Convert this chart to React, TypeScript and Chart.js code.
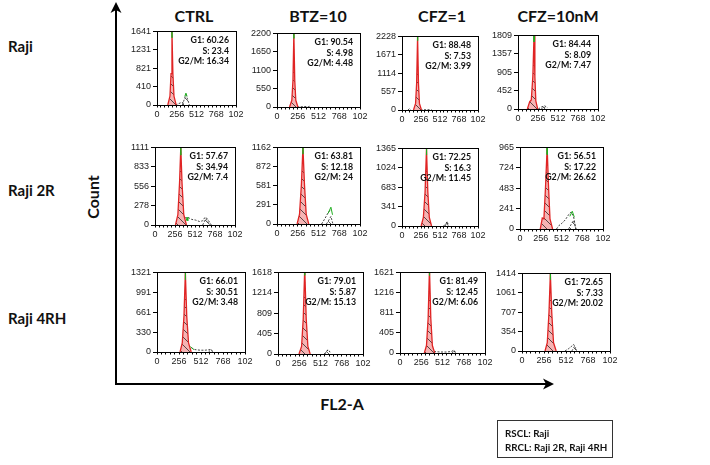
import React, { useEffect, useRef } from 'react';
import { Chart, registerables } from 'chart.js';

Chart.register(...registerables);

type Pt = [number, number | null];

// ---------- text / labels ----------
const conditions = ['CTRL', 'BTZ=10', 'CFZ=1', 'CFZ=10nM'];
const cellLines = ['Raji', 'Raji 2R', 'Raji 4RH'];
const xTickLabels = ['0', '256', '512', '768', '102'];
const legendLines = ['RSCL: Raji', 'RRCL: Raji 2R, Raji 4RH'];

// ---------- values (row-major: Raji, Raji 2R, Raji 4RH x CTRL, BTZ=10, CFZ=1, CFZ=10nM) ----------
const yMax = [1641, 2200, 2228, 1809, 1111, 1162, 1365, 965, 1321, 1618, 1621, 1414];
const g1Pct = ['60.26', '90.54', '88.48', '84.44', '57.67', '63.81', '72.25', '56.51', '66.01', '79.01', '81.49', '72.65'];
const sPct = ['23.4', '4.98', '7.53', '8.09', '34.94', '12.18', '16.3', '17.22', '30.51', '5.87', '12.45', '7.33'];
const g2Pct = ['16.34', '4.48', '3.99', '7.47', '7.4', '24', '11.45', '26.62', '3.48', '15.13', '6.06', '20.02'];

const g1Peaks: Pt[][] = [
  [[140, 0], [168, 200], [182, 700], [194, 1641], [206, 700], [220, 200], [248, 0]],
  [[155, 0], [183, 200], [197, 800], [208, 2200], [219, 800], [232, 200], [258, 0]],
  [[155, 0], [183, 200], [197, 800], [210, 2228], [222, 800], [235, 200], [262, 0]],
  [[120, 0], [150, 180], [170, 220], [190, 800], [205, 1809], [216, 800], [228, 200], [252, 0]],
  [[262, 0], [293, 150], [314, 600], [330, 1111], [346, 600], [368, 150], [402, 0]],
  [[248, 0], [278, 150], [301, 600], [320, 1162], [339, 600], [360, 150], [392, 0]],
  [[258, 0], [288, 150], [311, 600], [330, 1365], [348, 600], [368, 150], [398, 0]],
  [[250, 0], [275, 130], [295, 120], [315, 500], [335, 965], [352, 500], [370, 120], [402, 0]],
  [[268, 0], [294, 150], [314, 600], [330, 1321], [346, 600], [367, 150], [398, 0]],
  [[253, 0], [284, 150], [304, 700], [322, 1700], [340, 700], [360, 150], [388, 0]],
  [[293, 0], [319, 150], [339, 700], [355, 1700], [371, 700], [390, 150], [418, 0]],
  [[268, 0], [294, 150], [314, 700], [330, 1414], [346, 700], [367, 150], [398, 0]],
];

const g2Peaks: Pt[][] = [
  [[330, 0], [352, 120], [375, 230], [398, 120], [420, 0]],
  [[380, 0], [400, 20], [420, 0]],
  [[80, 0], [100, 40], [120, 0]],
  [[300, 0], [330, 60], [360, 0]],
  [[610, 0], [650, 90], [700, 0]],
  [[610, 0], [640, 60], [665, 115], [690, 0]],
  [[580, 0], [605, 60], [625, 0]],
  [[600, 0], [640, 70], [660, 100], [690, 0]],
  [[600, 0], [630, 40], [655, 0]],
  [[560, 0], [600, 80], [625, 40]],
  [[630, 0], [650, 50], [670, 0]],
  [[580, 0], [610, 80], [640, 0]],
];

const sPhase: Pt[][] = [
  [[240, 0], [280, 30], [320, 60], [345, 40]],
  [[250, 0], [300, 10], [380, 15]],
  [[250, 0], [320, 10], [400, 5]],
  [[260, 0], [300, 50], [340, 80], [380, 30]],
  [[380, 100], [420, 110], [470, 80], [520, 70], [570, 50], [610, 60], [640, 110], [670, 90], [720, 0]],
  [[550, 0], [590, 80], [630, 170], [665, 225]],
  [[560, 0], [590, 40], [610, 80], [620, 30]],
  [[450, 0], [480, 40], [520, 70], [560, 110], [600, 170], [630, 200], [660, 150], [690, 0]],
  [[400, 70], [440, 40], [500, 30], [560, 30], [620, 40], [650, 0]],
  [[560, 0], [600, 80], [630, 40]],
  [[410, 30], [480, 20], [560, 20], [620, 30], [650, 60], [670, 0]],
  [[500, 0], [540, 40], [580, 90], [600, 120], [625, 60]],
];

const fitLines: Pt[][] = [
  [[192, 1500], [194, 1660], [196, 1500], [270, null], [360, 190], [375, 265], [390, 190]],
  [[206, 2050], [208, 2230], [210, 2050]],
  [[208, 2100], [210, 2260], [212, 2100]],
  [[203, 1650], [205, 1830], [207, 1650]],
  [[327, 1000], [330, 1120], [333, 1000], [360, null], [400, 60], [410, 110], [420, 60]],
  [[318, 1060], [320, 1180], [322, 1060], [500, null], [630, 160], [665, 255], [685, 140]],
  [[328, 1250], [330, 1380], [332, 1250]],
  [[333, 880], [335, 985], [337, 880], [500, null], [615, 150], [645, 210], [670, 140]],
  [[328, 1200], [330, 1340], [332, 1200], [360, null], [390, 90], [410, 60], [430, 40]],
  [[320, 1560], [322, 1700], [324, 1560]],
  [[353, 1560], [355, 1700], [357, 1560]],
  [[328, 1300], [330, 1430], [332, 1300]],
];

// ---------- layout (plot-area boxes: left, top, right, bottom) ----------
const panelBoxes = [
  [157, 31, 236, 105], [277, 33, 360, 107], [402, 36, 478, 110], [518, 35, 598, 109],
  [155, 147, 235, 225], [277, 147, 360, 224], [402, 148, 478, 226], [520, 147, 603, 229],
  [157, 272, 245, 352], [278, 272, 363, 354], [400, 272, 485, 353], [522, 273, 610, 351],
];
const YW = 30, PT = 7, PR = 12, XH = 15;
const BOLD = 'Lato, "Open Sans", "DejaVu Sans", sans-serif';
const TICKFONT = '"Liberation Sans", Arial, sans-serif';

function makeHatch(bg: string): CanvasPattern {
  const c = document.createElement('canvas');
  c.width = 8;
  c.height = 8;
  const g = c.getContext('2d')!;
  g.fillStyle = bg;
  g.fillRect(0, 0, 8, 8);
  g.strokeStyle = 'rgba(0,0,0,0.8)';
  g.lineWidth = 0.8;
  g.beginPath();
  g.moveTo(0, 0);
  g.lineTo(8, 8);
  g.moveTo(-1, 7);
  g.lineTo(1, 9);
  g.moveTo(7, -1);
  g.lineTo(9, 1);
  g.stroke();
  return g.createPattern(c, 'repeat')!;
}

function Panel({ idx }: { idx: number }) {
  const ref = useRef<HTMLCanvasElement>(null);
  const [L, T, R, B] = panelBoxes[idx];
  const w = R - L + YW + PR;
  const h = B - T + PT + XH;

  useEffect(() => {
    const canvas = ref.current!;
    const max = yMax[idx];
    const framePlugin = {
      id: 'frame' + idx,
      afterDraw(chart: any) {
        const { ctx, chartArea: a } = chart;
        ctx.save();
        ctx.strokeStyle = '#000';
        ctx.lineWidth = 1;
        ctx.strokeRect(Math.round(a.left) + 0.5, Math.round(a.top) + 0.5, Math.round(a.right - a.left), Math.round(a.bottom - a.top));
        ctx.fillStyle = '#111';
        ctx.font = 'bold 8.8px ' + BOLD;
        ctx.textAlign = 'right';
        ctx.textBaseline = 'middle';
        const x = a.right - 7;
        ctx.fillText('G1: ' + g1Pct[idx], x, a.top + 9);
        ctx.fillText('S: ' + sPct[idx], x, a.top + 19.5);
        ctx.fillText('G2/M: ' + g2Pct[idx], x, a.top + 30);
        ctx.restore();
      },
    };
    const chart = new Chart(canvas, {
      type: 'line',
      data: {
        datasets: [
          { data: fitLines[idx] as any, borderColor: '#1fae1f', borderWidth: 1, fill: false, pointRadius: 0, spanGaps: false, order: 0 },
          { data: g1Peaks[idx] as any, borderColor: '#e02424', borderWidth: 1.3, backgroundColor: makeHatch('rgba(240,140,140,0.65)'), fill: 'origin', pointRadius: 0, order: 1 },
          { data: g2Peaks[idx] as any, borderColor: '#222', borderWidth: 0.8, borderDash: [2, 1.5], backgroundColor: makeHatch('rgba(255,255,255,0)'), fill: 'origin', pointRadius: 0, order: 2 },
          { data: sPhase[idx] as any, borderColor: '#111', borderWidth: 0.8, borderDash: [2, 1.5], fill: false, pointRadius: 0, order: 3 },
        ],
      },
      options: {
        animation: false,
        responsive: false,
        maintainAspectRatio: false,
        layout: { padding: { top: PT, right: PR, left: 0, bottom: 0 } },
        plugins: { legend: { display: false }, tooltip: { enabled: false } },
        scales: {
          x: {
            type: 'linear',
            min: 0,
            max: 1024,
            afterBuildTicks: (s: any) => {
              s.ticks = Array.from({ length: 21 }, (_, i) => ({ value: (i * 1024) / 20 }));
            },
            afterFit: (s: any) => {
              s.height = XH;
            },
            ticks: {
              autoSkip: false,
              maxRotation: 0,
              minRotation: 0,
              padding: 2,
              color: '#222',
              font: { family: TICKFONT, size: 9 },
              callback: (_v: any, i: number) => (i % 5 === 0 ? xTickLabels[i / 5] : ''),
            },
            grid: { drawOnChartArea: false, drawTicks: true, tickLength: 2.5, color: '#000' },
            border: { color: '#000', width: 1 },
          },
          y: {
            type: 'linear',
            min: 0,
            max,
            afterBuildTicks: (s: any) => {
              s.ticks = [0, 1, 2, 3, 4].map((i) => ({ value: (max * i) / 4 }));
            },
            afterFit: (s: any) => {
              s.width = YW;
            },
            ticks: {
              autoSkip: false,
              padding: 2,
              color: '#222',
              font: { family: TICKFONT, size: 9 },
              callback: (v: any) => String(Math.round(Number(v))),
            },
            grid: { drawOnChartArea: false, drawTicks: true, tickLength: 4, color: '#000' },
            border: { color: '#000', width: 1 },
          },
        },
      } as any,
      plugins: [framePlugin],
    });
    return () => chart.destroy();
  }, [idx]);

  return (
    <canvas
      ref={ref}
      width={w}
      height={h}
      style={{ position: 'absolute', left: L - YW, top: T - PT, width: w, height: h }}
    />
  );
}

const colCenters = [194, 318, 442, 558];
const rowCenters = [46, 190, 318];

function Label({ text, x, y, size, rotate }: { text: string; x: number; y: number; size: number; rotate?: boolean }) {
  return (
    <div
      style={{
        position: 'absolute',
        left: x,
        top: y,
        transform: `translate(-50%, -50%)${rotate ? ' rotate(-90deg)' : ''}`,
        font: `bold ${size}px ${BOLD}`,
        color: '#111',
        whiteSpace: 'nowrap',
        lineHeight: 1,
      }}
    >
      {text}
    </div>
  );
}

export default function App() {
  return (
    <div style={{ position: 'absolute', left: 0, top: 0, width: 710, height: 465, background: '#fff', overflow: 'hidden' }}>
      <svg width={710} height={465} style={{ position: 'absolute', left: 0, top: 0 }}>
        <line x1={116} y1={385} x2={116} y2={8} stroke="#000" strokeWidth={2} />
        <polygon points="116,2 110.5,13 116,10 121.5,13" fill="#000" />
        <line x1={115} y1={384} x2={548} y2={384} stroke="#000" strokeWidth={2} />
        <polygon points="554,384 543,378.5 546,384 543,389.5" fill="#000" />
      </svg>
      {conditions.map((c, i) => (
        <Label key={c} text={c} x={colCenters[i]} y={16} size={16} />
      ))}
      {cellLines.map((c, i) => (
        <div
          key={c}
          style={{ position: 'absolute', left: 8, top: rowCenters[i], transform: 'translateY(-50%)', font: `bold 15px ${BOLD}`, color: '#111', whiteSpace: 'nowrap', lineHeight: 1 }}
        >
          {c}
        </div>
      ))}
      <Label text="Count" x={93} y={197} size={16} rotate />
      <Label text="FL2-A" x={342} y={404} size={16} />
      {panelBoxes.map((_, i) => (
        <Panel key={i} idx={i} />
      ))}
      <div
        style={{
          position: 'absolute',
          left: 497,
          top: 420,
          width: 116,
          height: 38,
          border: '1px solid #333',
          boxSizing: 'border-box',
          padding: '5px 0 0 7px',
          font: `bold 9.8px ${BOLD}`,
          color: '#111',
          lineHeight: '14px',
        }}
      >
        {legendLines.map((l) => (
          <div key={l} style={{ whiteSpace: 'nowrap' }}>{l}</div>
        ))}
      </div>
    </div>
  );
}
